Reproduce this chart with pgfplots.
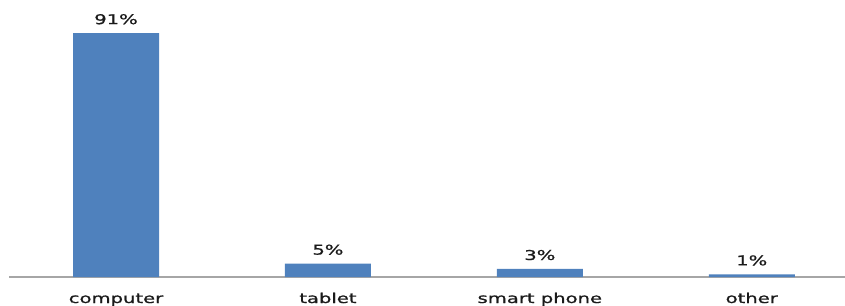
\documentclass[border=0pt]{standalone}
\usepackage{pgfplots}
\pgfplotsset{compat=1.18}
\usepackage{fontspec}
\setmainfont{DejaVu Sans}
\newfontfamily\lblfont[FakeBold=0.8]{DejaVu Sans}
\definecolor{barblue}{HTML}{4F81BD}
\definecolor{axgray}{HTML}{A6A6A6}
\definecolor{txt}{HTML}{1A1A1A}
\begin{document}
\begin{tikzpicture}[x=1pt,y=1pt]
\useasboundingbox (0,0) rectangle (845,305);
\begin{axis}[
  at={(9pt,28pt)}, anchor=south west,
  scale only axis,
  width=836pt, height=268pt,
  xmin=-0.505, xmax=3.44,
  ymin=0, ymax=100,
  axis x line*=bottom,
  axis y line=none,
  axis line style={draw=axgray, line width=1.3pt},
  xtick=data,
  xticklabels={computer,tablet,smart phone,other},
  major tick length=0pt,
  xticklabel style={anchor=base, yshift=-26pt, font=\lblfont\fontsize{13.5}{15}\selectfont, xscale=1.45, text=txt},
  ybar,
  bar width=86pt,
  clip=false,
  point meta=explicit symbolic,
  nodes near coords,
  every node near coord/.append style={anchor=base, yshift=9pt, font=\lblfont\fontsize{13.5}{15}\selectfont, xscale=1.45, text=txt},
]
\addplot[fill=barblue, draw=none] coordinates {
  (0,91) [91\%]
  (1,5) [5\%]
  (2,3) [3\%]
  (3,1) [1\%]
};
\end{axis}
\end{tikzpicture}
\end{document}
